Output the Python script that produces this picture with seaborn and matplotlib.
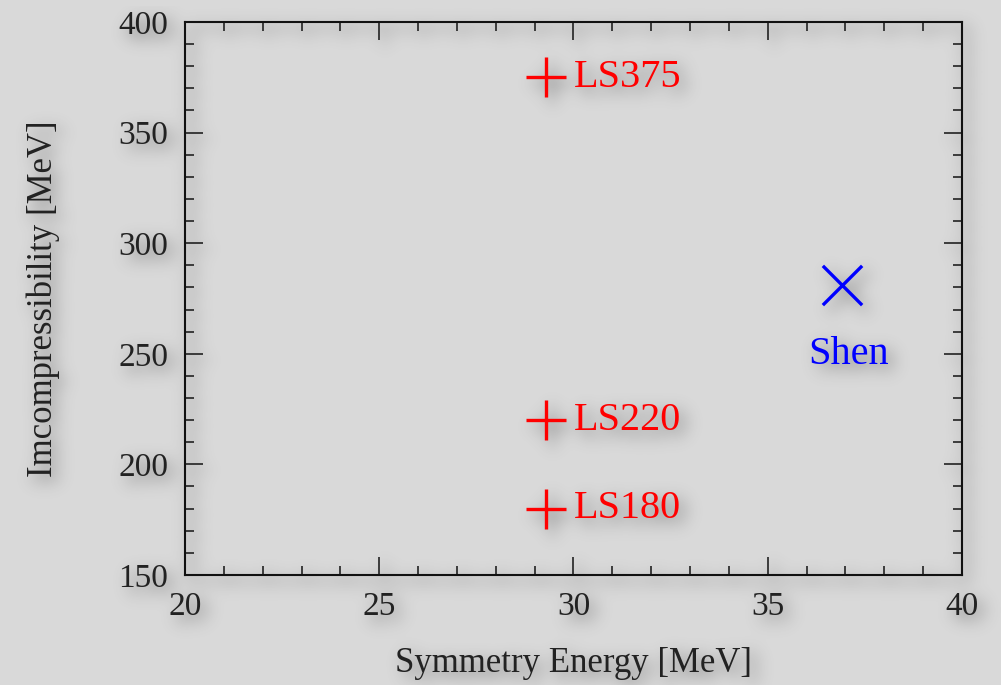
import matplotlib
matplotlib.use('Agg')
import matplotlib.pyplot as plt
from matplotlib.ticker import MultipleLocator
import seaborn as sns
import numpy as np
import pandas as pd

# ── DATA ─────────────────────────────────────────────────────
eos_names  = ["LS180", "LS220", "LS375", "Shen"]
sym_energy = [29.3, 29.3, 29.3, 36.9]     # MeV
incompress = [180, 220, 375, 281]         # MeV
eos_family = ["LS", "LS", "LS", "Shen"]

df = pd.DataFrame({"name": eos_names, "S": sym_energy, "K": incompress,
                   "family": eos_family})

BG = "#d9d9d9"
INK = "#222222"

sns.set_style("ticks")
plt.rcParams['font.family'] = ['Liberation Serif', 'DejaVu Serif']

fig = plt.figure(figsize=(10.01, 6.85), dpi=100, facecolor=BG)
ax = fig.add_axes([0.1848, 0.1606, 0.7762, 0.8074], facecolor="none")

ls = df[df["family"] == "LS"]
sh = df[df["family"] == "Shen"]
sns.scatterplot(data=ls, x="S", y="K", marker="+", s=850, color="red",
                linewidth=2.4, ax=ax, legend=False, zorder=3)
sns.scatterplot(data=sh, x="S", y="K", marker="x", s=800, color="blue",
                linewidth=2.4, ax=ax, legend=False, zorder=3)

for _, r in ls.iterrows():
    ax.annotate(r["name"], (r["S"], r["K"]), xytext=(20, 0),
                textcoords="offset points", ha="left", va="center",
                fontsize=29, color="red")
for _, r in sh.iterrows():
    ax.annotate(r["name"], (r["S"], r["K"]), xytext=(5, -50),
                textcoords="offset points", ha="center", va="center",
                fontsize=29, color="blue")

ax.set_xlim(20, 40)
ax.set_ylim(150, 400)
ax.xaxis.set_major_locator(MultipleLocator(5))
ax.xaxis.set_minor_locator(MultipleLocator(1))
ax.yaxis.set_major_locator(MultipleLocator(50))
ax.yaxis.set_minor_locator(MultipleLocator(10))
ax.tick_params(which="both", direction="in", top=True, right=True,
               color=INK, width=1.2)
ax.tick_params(which="major", length=13, labelsize=24, pad=12,
               labelcolor=INK)
ax.tick_params(which="minor", length=6.5)

for sp in ax.spines.values():
    sp.set_visible(True)
    sp.set_linewidth(1.5)
    sp.set_color("#111111")

ax.set_xlabel("Symmetry Energy [MeV]", fontsize=25, color=INK, labelpad=18)
ax.set_ylabel("Imcompressibility [MeV]", fontsize=25, color=INK, labelpad=42)

# ── soft drop shadow: render coverage, blur, put underneath ──
fig.patch.set_alpha(0)
fig.canvas.draw()
cov = np.asarray(fig.canvas.buffer_rgba())[:, :, 3].astype(float) / 255
fig.patch.set_alpha(1)

sigma = 8
k = np.arange(-3 * sigma, 3 * sigma + 1)
kern = np.exp(-k**2 / (2 * sigma**2)); kern /= kern.sum()
blur = np.apply_along_axis(lambda v: np.convolve(v, kern, mode="same"), 1, cov)
blur = np.apply_along_axis(lambda v: np.convolve(v, kern, mode="same"), 0, blur)
off = 6
shifted = np.zeros_like(blur)
shifted[off:, off:] = blur[:-off, :-off]

shade = np.zeros(shifted.shape + (4,))
shade[..., :3] = 0.25
shade[..., 3] = np.clip(shifted * 0.7, 0, 0.35)
fig.figimage(shade, xo=0, yo=0, origin="upper", zorder=-1)

plt.savefig("out.png", dpi=100, facecolor=BG)
